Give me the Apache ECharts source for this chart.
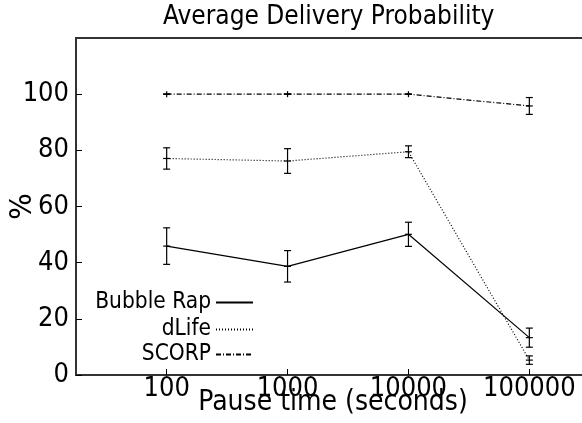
<!DOCTYPE html>
<html>
<head>
<meta charset="utf-8">
<script src="https://cdn.jsdelivr.net/npm/echarts@6/dist/echarts.min.js"></script>
<style>
  html, body { margin: 0; background: #fff; }
  #chart { width: 582px; height: 423px; }
</style>
</head>
<body>
<div id="chart"></div>
<script>
// pause times on the x axis (log scale)
const pauseTimes = [100, 1000, 10000, 100000];

// average delivery probability (%) and error bar half-heights
const bubbleRap = [45.9, 38.7, 50.1, 13.3];
const bubbleRapErr = [6.5, 5.6, 4.3, 3.4];
const dLife = [77.1, 76.2, 79.5, 5.3];
const dLifeErr = [3.8, 4.4, 2.1, 1.5];
const scorp = [100, 100, 100, 95.8];
const scorpErr = [0, 0, 0, 3.0];

const yTicks = [0, 20, 40, 60, 80, 100];

const FONT = 'DejaVu Sans Condensed';

function lineData(vals) {
  return pauseTimes.map((x, i) => [x, vals[i]]);
}
function errData(vals, errs) {
  return pauseTimes.map((x, i) => [x, vals[i], errs[i]]);
}

// vertical error bar with caps, plus a small "+" at the point
function renderErr(params, api) {
  const x = api.value(0), y = api.value(1), e = api.value(2);
  const top = api.coord([x, y + e]);
  const bot = api.coord([x, y - e]);
  const mid = api.coord([x, y]);
  const c = 3.5;
  const st = { stroke: '#000', lineWidth: 1.2 };
  const seg = (x1, y1, x2, y2) => ({ type: 'line', shape: { x1, y1, x2, y2 }, style: st });
  return {
    type: 'group',
    children: [
      seg(top[0], Math.min(top[1], mid[1] - 3), bot[0], Math.max(bot[1], mid[1] + 3)),
      seg(top[0] - c, top[1], top[0] + c, top[1]),
      seg(bot[0] - c, bot[1], bot[0] + c, bot[1]),
      seg(mid[0] - c, mid[1], mid[0] + c, mid[1])
    ]
  };
}

const chart = echarts.init(document.getElementById('chart'));

const legendBase = {
  orient: 'horizontal',
  align: 'right',
  itemWidth: 37,
  itemHeight: 14,
  padding: 0,
  selectedMode: false,
  itemStyle: { opacity: 0 },
  textStyle: { fontFamily: FONT, fontSize: 22.5, color: '#000', lineHeight: 22 }
};

chart.setOption({
  animation: false,
  backgroundColor: '#fff',
  textStyle: { fontFamily: FONT },
  title: {
    text: 'Average Delivery Probability',
    left: 158,
    top: -1,
    textStyle: { fontFamily: FONT, fontSize: 26, fontWeight: 'normal', color: '#000' }
  },
  legend: [
    Object.assign({}, legendBase, { data: ['Bubble Rap'], right: 328, top: 291 }),
    Object.assign({}, legendBase, { data: ['dLife'], right: 328, top: 318 }),
    Object.assign({}, legendBase, { data: ['SCORP'], right: 328, top: 343 })
  ],
  grid: {
    left: 76, right: -38, top: 38, bottom: 48,
    outerBoundsMode: 'none',
    containLabel: false,
    show: true, borderColor: '#333', borderWidth: 2
  },
  xAxis: {
    type: 'log',
    logBase: 10,
    min: Math.pow(10, 1.25),
    max: Math.pow(10, 5.75),
    name: 'Pause time (seconds)',
    nameLocation: 'middle',
    nameGap: 14,
    nameMoveOverlap: false,
    nameTextStyle: { fontFamily: FONT, fontSize: 28, color: '#000', padding: [0, 30, 0, 0] },
    axisLine: { lineStyle: { color: '#333', width: 2 } },
    axisTick: { inside: true, length: 6, customValues: pauseTimes, lineStyle: { color: '#000' } },
    axisLabel: {
      customValues: pauseTimes,
      fontSize: 27, color: '#000', margin: 0,
      formatter: v => String(Math.round(v))
    },
    splitLine: { show: false },
    minorTick: { show: false }
  },
  yAxis: {
    type: 'value',
    min: 0, max: 120, interval: 20,
    name: '%',
    nameLocation: 'middle',
    nameRotate: 90,
    nameGap: 38,
    nameMoveOverlap: false,
    nameTextStyle: { fontFamily: FONT, fontSize: 31, color: '#000' },
    axisLine: { show: true, lineStyle: { color: '#333', width: 2 } },
    axisTick: { show: true, inside: true, length: 6, customValues: yTicks, lineStyle: { color: '#000' } },
    axisLabel: { customValues: yTicks, fontSize: 27, color: '#000', margin: 7 },
    splitLine: { show: false }
  },
  series: [
    {
      name: 'Bubble Rap', type: 'line', symbol: 'none',
      lineStyle: { color: '#000', width: 1.2, type: 'solid' },
      itemStyle: { color: '#000' },
      data: lineData(bubbleRap)
    },
    {
      name: 'dLife', type: 'line', symbol: 'none',
      lineStyle: { color: '#000', width: 1.2, type: [1, 2] },
      itemStyle: { color: '#000' },
      data: lineData(dLife)
    },
    {
      name: 'SCORP', type: 'line', symbol: 'none',
      lineStyle: { color: '#000', width: 1.2, type: [5, 2, 1, 2] },
      itemStyle: { color: '#000' },
      data: lineData(scorp)
    },
    { name: 'bubbleErr', type: 'custom', renderItem: renderErr, encode: { x: 0, y: 1 }, data: errData(bubbleRap, bubbleRapErr), z: 3 },
    { name: 'dLifeErr', type: 'custom', renderItem: renderErr, encode: { x: 0, y: 1 }, data: errData(dLife, dLifeErr), z: 3 },
    { name: 'scorpErr', type: 'custom', renderItem: renderErr, encode: { x: 0, y: 1 }, data: errData(scorp, scorpErr), z: 3 }
  ]
});
</script>
</body>
</html>
